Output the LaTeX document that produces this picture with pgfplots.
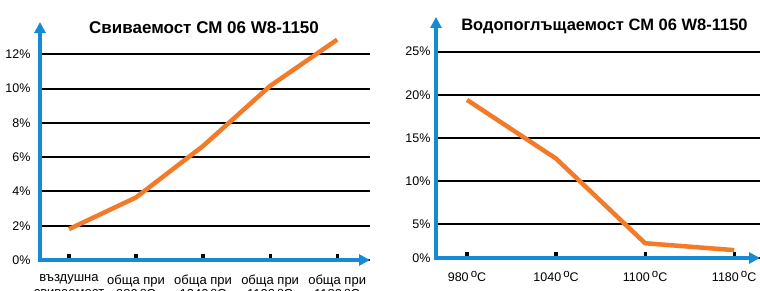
\documentclass[border=0pt]{standalone}
\usepackage{pgfplots}
\pgfplotsset{compat=1.18}
\usepackage{fontspec}
\setmainfont{Liberation Sans}
\usetikzlibrary{arrows.meta}
\definecolor{axblue}{RGB}{22,138,212}
\definecolor{lineor}{RGB}{242,122,40}
\newcommand{\dg}{\,{\fontsize{11.5}{11}\selectfont\raisebox{0.55ex}{o}}C}
\pgfplotsset{
  mystyle/.style={
    scale only axis,
    axis lines=left,
    axis line style={draw=axblue, line width=3.8pt, line cap=rect, -{Triangle[length=11pt,width=11pt]}},
    tick align=inside,
    ytick style={draw=none},
    xtick style={black, line width=3.2pt},
    major tick length=5.5pt,
    ymajorgrids,
    major grid style={black, line width=2pt},
    tick label style={font=\fontsize{12.5}{13}\selectfont},
    clip=false,
  }
}
\begin{document}
\begin{tikzpicture}[x=1pt,y=1pt]
\useasboundingbox (0,0) rectangle (760,291);
\clip (0,0) rectangle (760,291);
\begin{axis}[mystyle,
  at={(40pt,31pt)}, anchor=south west,
  width=330pt, height=238pt,
  xmin=-0.433, xmax=4.49, ymin=0, ymax=13.88,
  xtick={0,1,2,3,4},
  xticklabels={въздушна\\свиваемост, обща при\\980\dg, обща при\\1040\dg, обща при\\1100\dg, обща при\\1180\dg},
  xticklabel style={align=center, yshift=-11pt, font=\fontsize{13}{14.5}\selectfont},
  ytick={0,2,4,6,8,10,12},
  yticklabels={0\%,2\%,4\%,6\%,8\%,10\%,12\%},
  yticklabel style={xshift=-6pt},
]
\addplot[lineor, line width=4.5pt] coordinates {(0,1.8) (1,3.65) (2,6.65) (3,10.15) (4,12.85)};
\node[font=\bfseries\fontsize{17}{18}\selectfont] at (rel axis cs:0.497,0.975) {Свиваемост СМ 06 W8-1150};
\end{axis}
\begin{axis}[mystyle,
  at={(436pt,33pt)}, anchor=south west,
  width=324pt, height=241pt,
  xmin=-0.348, xmax=3.29, ymin=1.09, ymax=29.0,
  xtick={0,1,2,3},
  xticklabels={980\dg, 1040\dg, 1100\dg, 1180\dg},
  xticklabel style={yshift=-10pt, font=\fontsize{12.5}{13}\selectfont},
  ytick={1.09,5,10,15,20,25},
  yticklabels={0\%,5\%,10\%,15\%,20\%,25\%},
  yticklabel style={xshift=-2pt},
]
\addplot[lineor, line width=4.5pt] coordinates {(0,19.4) (1,12.6) (2,2.8) (3,2.0)};
\node[font=\bfseries\fontsize{16.5}{18}\selectfont] at (rel axis cs:0.52,0.96) {Водопоглъщаемост СМ 06 W8-1150};
\end{axis}
\end{tikzpicture}
\end{document}
